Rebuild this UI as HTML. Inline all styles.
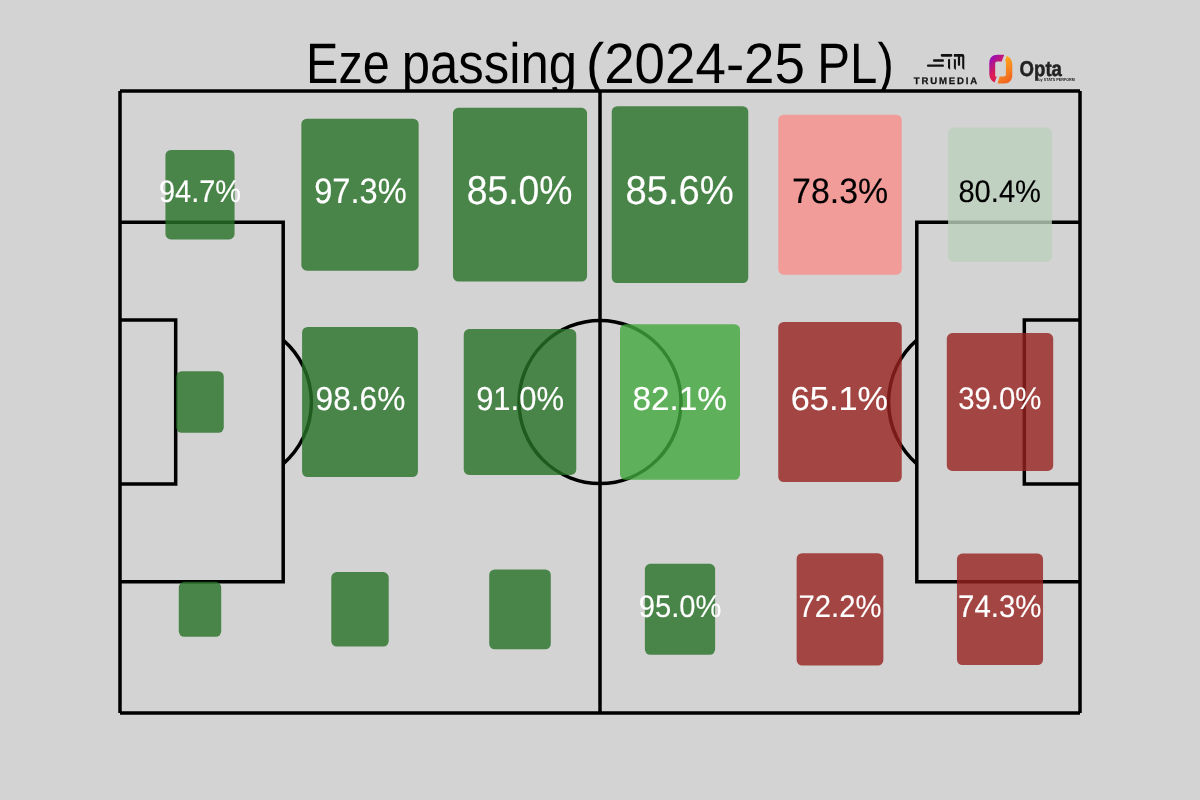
<!DOCTYPE html>
<html><head><meta charset="utf-8"><style>
html,body{margin:0;padding:0;background:#d3d3d3;width:1200px;height:800px;overflow:hidden}
svg{display:block;will-change:transform}
text{text-rendering:geometricPrecision;font-family:"Liberation Sans",sans-serif}
</style></head><body>
<svg width="1200" height="800" viewBox="0 0 1200 800">
<rect width="1200" height="800" fill="#d3d3d3"/>
<clipPath id="tc"><rect x="0" y="0" width="1200" height="90.5"/></clipPath><g clip-path="url(#tc)"><text x="306.02" y="82.90" font-size="56.98" fill="#000" textLength="83.64" lengthAdjust="spacingAndGlyphs" >Eze</text><text x="401.72" y="82.90" font-size="56.98" fill="#000" textLength="175.31" lengthAdjust="spacingAndGlyphs" >passing</text><text x="585.91" y="82.90" font-size="56.98" fill="#000" textLength="219.09" lengthAdjust="spacingAndGlyphs" >(2024-25</text><text x="817.27" y="82.90" font-size="56.98" fill="#000" textLength="76.48" lengthAdjust="spacingAndGlyphs" >PL)</text></g>

<g id="trumedia" fill="#111">
  <rect x="926.9" y="64.6" width="17.1" height="2.2" rx="1.1"/>
  <rect x="933" y="59.3" width="11" height="2.5" rx="1.1"/>
  <rect x="940.75" y="54.1" width="11.55" height="2.6" rx="1.1"/>
  <path d="M948,59.4 Q948,58.9 949,58.9 Q950.1,58.9 950.1,59.4 V69.8 L948,67.9 Z"/>
  <path d="M953.9,54.1 H962.5 Q964.3,54.1 964.3,56 V70.1 L962.2,68.2 V56.7 H953.9 Z"/>
  <rect x="957.9" y="56" width="2.2" height="9.8" rx="0.7"/>
  <path d="M953.9,59.4 Q953.9,58.9 954.9,58.9 Q955.9,58.9 955.9,59.4 V70.1 L953.9,68.2 Z"/>
  <text x="945.5" y="83.8" font-size="9.6" font-weight="bold" text-anchor="middle" textLength="63.5" lengthAdjust="spacing" stroke="#111" stroke-width="0.25">TRUMEDIA</text>
</g>
<defs>
  <linearGradient id="gm" gradientUnits="userSpaceOnUse" x1="990" y1="60" x2="999" y2="68">
    <stop offset="0" stop-color="#9a10b0"/><stop offset="1" stop-color="#dc1c52"/>
  </linearGradient>
  <linearGradient id="go" gradientUnits="userSpaceOnUse" x1="999" y1="62" x2="1012" y2="80">
    <stop offset="0" stop-color="#ffa81c"/><stop offset="1" stop-color="#f0621f"/>
  </linearGradient>
</defs>
<g id="opta">
  <path d="M1004.2,54.75 L1001.7,61.4 H997.2 Q995.2,61.4 995.2,63.4 V76.6 H996.8 L994.6,82.5 C991,80.5 989.3,78 989.3,73.5 V63.5 C989.3,57.8 992.3,54.75 997.5,54.75 Z" fill="url(#gm)"/>
  <path d="M997.6,83.5 L999.6,76.6 H1003.9 Q1005.9,76.6 1005.9,74.6 V61.4 H1004.9 L1006.8,55.8 C1010.5,57.5 1012.3,60.5 1012.3,64.8 V74.8 C1012.3,80.5 1009.3,83.5 1004.3,83.5 Z" fill="url(#go)"/>
  <text x="1019.6" y="76.4" font-size="21.5" font-weight="bold" fill="#222" stroke="#222" stroke-width="0.5" textLength="42.3" lengthAdjust="spacingAndGlyphs">Opta</text>
  <text x="1038.3" y="81.1" font-size="4.3" font-weight="bold" fill="#222" textLength="36.6" lengthAdjust="spacingAndGlyphs">by STATS PERFORM</text>
</g>

<g fill="none" stroke="#000" stroke-width="3.5">
<path d="M120.0,91.0 H1080.0"/>
<path d="M120.0,713.0 H1080.0"/>
<path d="M120.0,91.0 V713.0"/>
<path d="M1080.0,91.0 V713.0"/>
<path d="M600,91.0 V713.0"/>
<path d="M120.0,222.24 H283.20 V581.76 H120.0"/>
<path d="M120.0,319.90 H175.68 V484.10 H120.0"/>
<path d="M1080.0,222.24 H916.80 V581.76 H1080.0"/>
<path d="M1080.0,319.90 H1024.32 V484.10 H1080.0"/>
<ellipse cx="600" cy="402" rx="81.0" ry="81.5"/>
<path d="M283.20,340.19 A81.0,81.5 0 0 1 283.20,463.81"/>
<path d="M916.80,340.19 A81.0,81.5 0 0 0 916.80,463.81"/>
</g>
<rect x="165.44" y="149.88" width="69.12" height="89.57" rx="5.5" fill="rgb(39, 112, 38)" fill-opacity="0.8"/>
<rect x="301.36" y="118.68" width="117.28" height="151.98" rx="5.5" fill="rgb(39, 112, 38)" fill-opacity="0.8"/>
<rect x="452.96" y="107.79" width="134.08" height="173.75" rx="5.5" fill="rgb(39, 112, 38)" fill-opacity="0.8"/>
<rect x="611.76" y="106.24" width="136.48" height="176.86" rx="5.5" fill="rgb(39, 112, 38)" fill-opacity="0.8"/>
<rect x="778.24" y="114.64" width="123.52" height="160.06" rx="5.5" fill="rgb(250, 142, 140)" fill-opacity="0.8"/>
<rect x="948.08" y="127.39" width="103.84" height="134.56" rx="5.5" fill="rgb(189, 209, 189)" fill-opacity="0.8"/>
<rect x="176.24" y="371.21" width="47.52" height="61.58" rx="5.5" fill="rgb(39, 112, 38)" fill-opacity="0.8"/>
<rect x="302.08" y="326.95" width="115.84" height="150.11" rx="5.5" fill="rgb(39, 112, 38)" fill-opacity="0.8"/>
<rect x="463.76" y="329.12" width="112.48" height="145.76" rx="5.5" fill="rgb(39, 112, 38)" fill-opacity="0.8"/>
<rect x="620.00" y="324.25" width="120.00" height="155.50" rx="5.5" fill="rgb(65, 167, 60)" fill-opacity="0.8"/>
<rect x="778.24" y="321.97" width="123.52" height="160.06" rx="5.5" fill="rgb(151, 35, 31)" fill-opacity="0.8"/>
<rect x="946.80" y="333.06" width="106.40" height="137.88" rx="5.5" fill="rgb(151, 35, 31)" fill-opacity="0.8"/>
<rect x="178.80" y="581.86" width="42.40" height="54.94" rx="5.5" fill="rgb(39, 112, 38)" fill-opacity="0.8"/>
<rect x="331.28" y="572.12" width="57.44" height="74.43" rx="5.5" fill="rgb(39, 112, 38)" fill-opacity="0.8"/>
<rect x="489.20" y="569.42" width="61.60" height="79.82" rx="5.5" fill="rgb(39, 112, 38)" fill-opacity="0.8"/>
<rect x="644.88" y="563.82" width="70.24" height="91.02" rx="5.5" fill="rgb(39, 112, 38)" fill-opacity="0.8"/>
<rect x="796.64" y="553.15" width="86.72" height="112.37" rx="5.5" fill="rgb(151, 35, 31)" fill-opacity="0.8"/>
<rect x="956.96" y="553.56" width="86.08" height="111.55" rx="5.5" fill="rgb(151, 35, 31)" fill-opacity="0.8"/>
<text x="200.04" y="201.84" font-size="31.14" fill="#fff" text-anchor="middle" textLength="82.04" lengthAdjust="spacingAndGlyphs" stroke="#fff" stroke-width="0.15">94.7%</text>
<text x="360.42" y="202.81" font-size="35.38" fill="#fff" text-anchor="middle" textLength="92.54" lengthAdjust="spacingAndGlyphs" stroke="#fff" stroke-width="0.15">97.3%</text>
<text x="519.60" y="203.97" font-size="40.40" fill="#fff" text-anchor="middle" textLength="105.80" lengthAdjust="spacingAndGlyphs" stroke="#fff" stroke-width="0.15">85.0%</text>
<text x="679.60" y="203.97" font-size="40.40" fill="#fff" text-anchor="middle" textLength="108.37" lengthAdjust="spacingAndGlyphs" stroke="#fff" stroke-width="0.15">85.6%</text>
<text x="840.14" y="202.81" font-size="35.38" fill="#000" text-anchor="middle" textLength="96.10" lengthAdjust="spacingAndGlyphs" stroke="#000" stroke-width="0.15">78.3%</text>
<text x="999.71" y="201.84" font-size="31.14" fill="#000" text-anchor="middle" textLength="82.60" lengthAdjust="spacingAndGlyphs" stroke="#000" stroke-width="0.15">80.4%</text>
<text x="360.45" y="409.67" font-size="33.33" fill="#fff" text-anchor="middle" textLength="89.71" lengthAdjust="spacingAndGlyphs" stroke="#fff" stroke-width="0.15">98.6%</text>
<text x="520.08" y="409.67" font-size="33.33" fill="#fff" text-anchor="middle" textLength="87.91" lengthAdjust="spacingAndGlyphs" stroke="#fff" stroke-width="0.15">91.0%</text>
<text x="679.62" y="409.67" font-size="33.33" fill="#fff" text-anchor="middle" textLength="94.49" lengthAdjust="spacingAndGlyphs" stroke="#fff" stroke-width="0.15">82.1%</text>
<text x="839.37" y="409.67" font-size="33.33" fill="#fff" text-anchor="middle" textLength="97.06" lengthAdjust="spacingAndGlyphs" stroke="#fff" stroke-width="0.15">65.1%</text>
<text x="999.84" y="409.17" font-size="31.14" fill="#fff" text-anchor="middle" textLength="83.27" lengthAdjust="spacingAndGlyphs" stroke="#fff" stroke-width="0.15">39.0%</text>
<text x="680.09" y="616.50" font-size="31.14" fill="#fff" text-anchor="middle" textLength="82.76" lengthAdjust="spacingAndGlyphs" stroke="#fff" stroke-width="0.15">95.0%</text>
<text x="840.02" y="616.62" font-size="31.32" fill="#fff" text-anchor="middle" textLength="82.89" lengthAdjust="spacingAndGlyphs" stroke="#fff" stroke-width="0.15">72.2%</text>
<text x="999.77" y="616.50" font-size="31.14" fill="#fff" text-anchor="middle" textLength="83.41" lengthAdjust="spacingAndGlyphs" stroke="#fff" stroke-width="0.15">74.3%</text>
</svg>
</body></html>
